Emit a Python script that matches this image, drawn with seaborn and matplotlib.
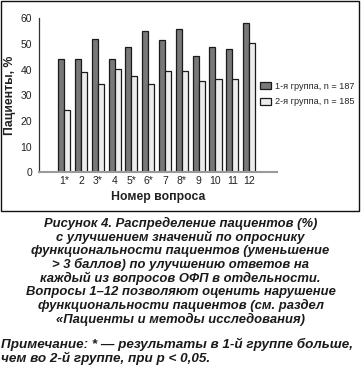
import matplotlib
matplotlib.use("Agg")
import matplotlib.pyplot as plt
import pandas as pd
import seaborn as sns
from matplotlib.patches import Rectangle

questions = ["1*", "2", "3*", "4", "5*", "6*", "7", "8*", "9", "10", "11", "12"]
group1 = [44, 44, 52, 44, 49, 55, 51.5, 56, 45.3, 49, 48, 58]
group2 = [24.3, 39, 34.4, 40.1, 37.5, 34.4, 39.5, 39.5, 35.5, 36.2, 36.2, 50.2]
group_names = ["1-я группа, n = 187", "2-я группа, n = 185"]
yticks = [0, 10, 20, 30, 40, 50, 60]

caption = (
    "Рисунок 4. Распределение пациентов (%)\n"
    "с улучшением значений по опроснику\n"
    "функциональности пациентов (уменьшение\n"
    "> 3 баллов) по улучшению ответов на\n"
    "каждый из вопросов ОФП в отдельности.\n"
    "Вопросы 1–12 позволяют оценить нарушение\n"
    "функциональности пациентов (см. раздел\n"
    "«Пациенты и методы исследования)"
)
note = (
    "Примечание: * — результаты в 1-й группе больше,\n"
    "чем во 2-й группе, при p < 0,05."
)

df = pd.DataFrame({
    "question": questions * 2,
    "value": group1 + group2,
    "group": [group_names[0]] * len(questions) + [group_names[1]] * len(questions),
})

sns.set_style("white")
plt.rcParams["font.family"] = ["Liberation Sans", "DejaVu Sans"]

W, H = 361, 366
fig = plt.figure(figsize=(W / 100, H / 100), dpi=100)
ax = fig.add_axes([39 / W, 1 - 172.3 / H, (277 - 39) / W, (172.3 - 18.3) / H])

sns.barplot(
    data=df, x="question", y="value", hue="group",
    palette=["#787878", "#ececec"], edgecolor="#1a1a1a", linewidth=0.9,
    width=0.72, gap=0, ax=ax,
)

ax.set_ylim(0, 60)
ax.set_xlim(-1.5, 12.66)
ax.set_yticks(yticks)
ax.set_yticklabels([str(t) for t in yticks], fontsize=7.5, color="#222222")
ax.tick_params(axis="x", length=0, labelsize=7.5, pad=3, colors="#222222")
ax.tick_params(axis="y", length=3.5, width=0.8, color="#222222", pad=1.5)
ax.set_xticks([12.66], minor=True)
ax.tick_params(axis="x", which="minor", direction="in", length=3, width=0.8, color="#222222")
for s in ["top", "right"]:
    ax.spines[s].set_visible(False)
ax.spines["left"].set_color("#333333")
ax.spines["left"].set_linewidth(0.9)
ax.spines["bottom"].set_color("#9a9a9a")
ax.spines["bottom"].set_linewidth(1.5)

ax.set_xlabel("Номер вопроса", fontsize=8.8, fontweight="bold", labelpad=3, color="#222222")
ax.set_ylabel("Пациенты, %", fontsize=8.8, fontweight="bold", labelpad=3, color="#222222")

ax.legend(
    loc="center left", bbox_to_anchor=(256 / W, 1 - 94 / H), bbox_transform=fig.transFigure,
    frameon=False, fontsize=6.6, handlelength=1.2, handleheight=0.8,
    handletextpad=0.45, labelspacing=0.75, borderaxespad=0,
)

fig.add_artist(Rectangle((1 / W, 1 - 211 / H), 358 / W, 210 / H,
                         transform=fig.transFigure, fill=False,
                         edgecolor="#111111", linewidth=1.0))

fig.text(0.5, 1 - 217 / H, caption, ha="center", va="top", fontsize=9.4,
         fontweight="bold", fontstyle="italic", color="#1a1a1a", linespacing=1.09)
fig.text(1 / W, 1 - 338 / H, note, ha="left", va="top", fontsize=9.7,
         fontweight="bold", fontstyle="italic", color="#1a1a1a", linespacing=1.02)

fig.savefig("out.png", dpi=100)
